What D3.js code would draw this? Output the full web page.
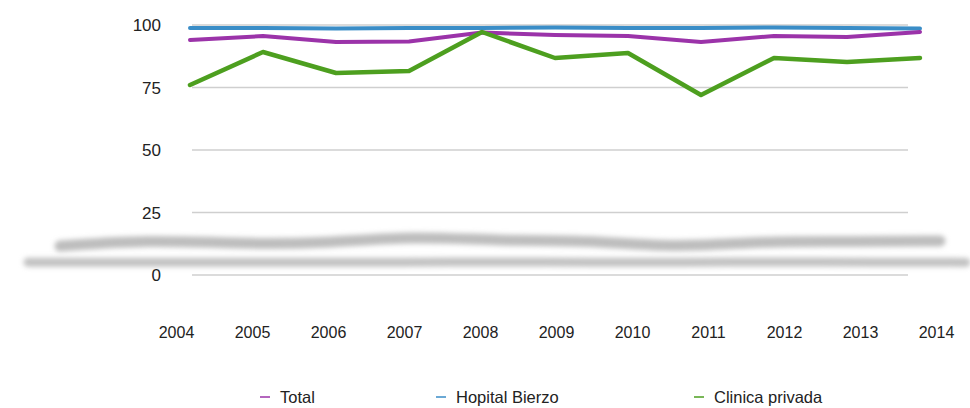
<!DOCTYPE html>
<html>
<head>
<meta charset="utf-8">
<script src="https://cdn.jsdelivr.net/npm/d3@7"></script>
<style>
  body { margin: 0; background: #fff; }
  text { font-family: "Liberation Sans", Arial, sans-serif; fill: #222; }
</style>
</head>
<body>
<svg id="chart" width="970" height="408"></svg>
<script>
// data
var years = ["2004","2005","2006","2007","2008","2009","2010","2011","2012","2013","2014"];
var total = [94, 95.6, 93.2, 93.4, 97, 96, 95.6, 93.2, 95.6, 95.2, 97.2];
var bierzo = [98.8, 98.8, 98.6, 98.8, 98.8, 99, 98.8, 98.8, 99, 98.8, 98.6];
var privada = [76, 89.2, 80.8, 81.6, 97.2, 86.8, 88.8, 72, 86.8, 85.2, 86.8];
var yTicks = [0, 25, 50, 75, 100];
var seriesNames = ["Total", "Hopital Bierzo", "Clinica privada"];
var seriesColors = ["#9b33a9", "#3a8dc7", "#4d9f1f"];

var svg = d3.select("#chart");

var x = d3.scalePoint().domain(years).range([190, 920]);
var xLabel = d3.scalePoint().domain(years).range([176, 936]);
var y = d3.scaleLinear().domain([0, 100]).range([275, 25]);

// blurred grey "reflection" under the plot
var defs = svg.append("defs");
defs.append("filter").attr("id", "blur")
  .attr("filterUnits", "userSpaceOnUse")
  .attr("x", 0).attr("y", 0).attr("width", 970).attr("height", 408)
  .append("feGaussianBlur").attr("stdDeviation", 2.5);

var xShadow = d3.scalePoint().domain(years).range([60, 940]);
var yShadow1 = d3.scaleLinear().domain([72, 97]).range([248, 236]);
var yShadow2 = d3.scaleLinear().domain([98, 100]).range([263, 261]);

svg.append("path")
  .attr("d", d3.line().x((d, i) => xShadow(years[i])).y(d => yShadow1(d)).curve(d3.curveBasis)(privada))
  .attr("fill", "none").attr("stroke", "#bdbdbd").attr("stroke-width", 11)
  .attr("stroke-linecap", "round")
  .attr("filter", "url(#blur)");

var xShadow2 = d3.scalePoint().domain(years).range([28, 966]);
svg.append("path")
  .attr("d", d3.line().x((d, i) => xShadow2(years[i])).y(d => yShadow2(d)).curve(d3.curveBasis)(bierzo))
  .attr("fill", "none").attr("stroke", "#c2c2c2").attr("stroke-width", 9)
  .attr("stroke-linecap", "round")
  .attr("filter", "url(#blur)");

// gridlines
svg.append("g").selectAll("line").data(yTicks).enter().append("line")
  .attr("x1", 192).attr("x2", 908)
  .attr("y1", d => y(d)).attr("y2", d => y(d))
  .attr("stroke", "#cfcfcf").attr("stroke-width", 1.5);

// y axis labels
var yAxis = svg.append("g").attr("transform", "translate(161,0)")
  .call(d3.axisLeft(y).tickValues(yTicks).tickSize(0).tickPadding(0));
yAxis.select(".domain").remove();
yAxis.selectAll("text").style("font-size", "17px").attr("dy", "0.35em");

// x axis labels
var xAxis = svg.append("g").attr("transform", "translate(0,327)")
  .call(d3.axisBottom(xLabel).tickSize(0).tickPadding(0));
xAxis.select(".domain").remove();
xAxis.selectAll("text").style("font-size", "16px");

// lines
var line = d3.line().x((d, i) => x(years[i])).y(d => y(d));
var allSeries = [bierzo, total, privada];
var order = [1, 0, 2];
allSeries.forEach(function(s, k) {
  var idx = order[k];
  svg.append("path")
    .attr("d", line(s))
    .attr("fill", "none")
    .attr("stroke", seriesColors[idx])
    .attr("stroke-width", idx == 2 ? 4.5 : 4)
    .attr("stroke-linejoin", "round")
    .attr("stroke-linecap", "round");
});

// legend
var legendX = [260, 436, 694];
var legend = svg.append("g").selectAll("g").data(seriesNames).enter().append("g")
  .attr("transform", (d, i) => "translate(" + legendX[i] + ",397)");
legend.append("line").attr("x1", 0).attr("x2", 10).attr("y1", 0).attr("y2", 0)
  .attr("stroke", (d, i) => seriesColors[i]).attr("stroke-width", 1.5);
legend.append("text").attr("x", 20).attr("dy", "0.35em")
  .style("font-size", "16.5px").text(d => d);
</script>
</body>
</html>
